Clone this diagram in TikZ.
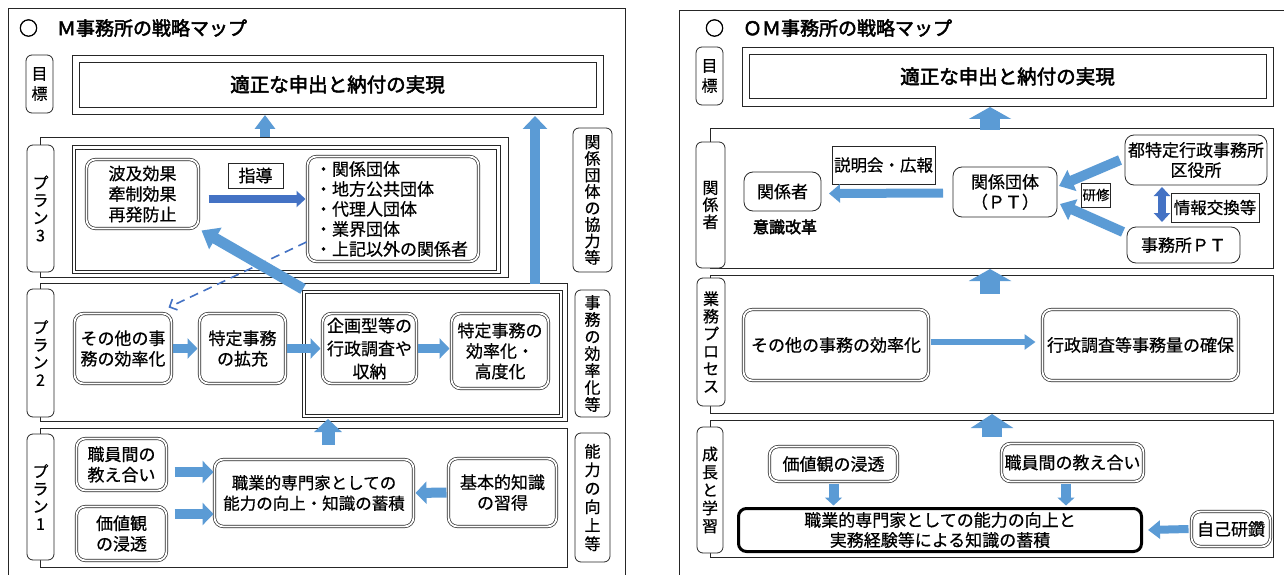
\documentclass[tikz,border=0pt]{standalone}
\usepackage{fontspec}
\setmainfont{Noto Sans CJK JP}[FakeBold=0.6,BoldFont={Noto Sans CJK JP},BoldFeatures={FakeBold=2.5}]
\usetikzlibrary{arrows.meta}
\definecolor{ab}{HTML}{5B9BD5}
\definecolor{db}{HTML}{4472C4}
\definecolor{ln}{HTML}{262626}
\begin{document}
\begin{tikzpicture}[x=1pt,y=-1pt,
  every node/.style={inner sep=0pt,outer sep=0pt},
  frm/.style={draw=ln,line width=0.8pt},
  lab/.style={draw=ln,fill=white,rounded corners=6pt,line width=0.8pt,align=center},
  goalbox/.style={draw=ln,line width=0.9pt,minimum width=531pt,minimum height=59pt,font=\fontsize{19.5}{22}\selectfont\bfseries},
  inbox/.style={draw=ln,line width=0.9pt},
  dbox/.style={draw=ln,double,double distance=1.8pt,line width=0.7pt,rounded corners=9pt,align=center,font=\fontsize{17}{20.5}\selectfont},
  sbox/.style={draw=ln,line width=0.8pt,rounded corners=9pt,align=center,font=\fontsize{17}{20.5}\selectfont},
  rbox/.style={draw=ln,line width=0.8pt,align=center,font=\fontsize{17}{20.5}\selectfont},
  arw/.style args={#1/#2/#3/#4}{draw=#1,line width=#2,-{Triangle[width=#3,length=#4]}},
  ttl/.style={anchor=west,font=\fontsize{19}{22}\selectfont\bfseries},
]
\useasboundingbox (0,0) rectangle (1284,575);
\fill[white] (0,0) rectangle (1284,575);

% ================= LEFT PANEL =================
\draw[frm] (8,575) -- (8,8) -- (625,8) -- (625,575);
\node[ttl] (titleL) at (19,28) {○　Ｍ事務所の戦略マップ};
\node[lab,minimum width=27pt,minimum height=58pt,font=\fontsize{16}{20}\selectfont] (gl) at (39.5,84) {目\\標};
\node[goalbox] (goalL) at (337.5,84.5) {適正な申出と納付の実現};
\draw[inbox] ([shift={(7pt,-7pt)}]goalL.north west) rectangle ([shift={(-7pt,7pt)}]goalL.south east);

% plan 3
\draw[frm] (40,137) rectangle (508,277);
\node[lab,minimum width=27pt,minimum height=127pt,font=\fontsize{16}{17.5}\selectfont] (p3l) at (40.5,208.5) {プ\\ラ\\ン\\3};
\node[inbox,minimum width=428pt,minimum height=128pt] (p3box) at (286,209.75) {};
\draw[inbox] ([shift={(3.5pt,-3.5pt)}]p3box.north west) rectangle ([shift={(-3.5pt,3.5pt)}]p3box.south east);
\node[dbox,minimum width=112pt,minimum height=69pt] (hakyu) at (142.5,194) {波及効果\\牽制効果\\再発防止};
\node[rbox,minimum width=55pt,minimum height=25pt] (shido) at (255.5,175.5) {指導};
\node[dbox,minimum width=171pt,minimum height=105pt,text width=156pt,align=left,font=\fontsize{17}{20}\selectfont] (list) at (393,209) {・関係団体\\・地方公共団体\\・代理人団体\\・業界団体\\・上記以外の関係者};
\node[lab,minimum width=39pt,minimum height=144pt,font=\fontsize{16}{16.5}\selectfont] (s1) at (592.5,200) {関\\係\\団\\体\\の\\協\\力\\等};

% plan 2
\draw[frm] (40,283) rectangle (567,421);
\node[lab,minimum width=27pt,minimum height=128pt,font=\fontsize{16}{17.5}\selectfont] (p2l) at (40.5,353) {プ\\ラ\\ン\\2};
\node[inbox,minimum width=260pt,minimum height=127pt] (p2box) at (432,353.5) {};
\draw[inbox] ([shift={(3pt,-3pt)}]p2box.north west) rectangle ([shift={(-3pt,3pt)}]p2box.south east);
\node[dbox,minimum width=97pt,minimum height=70pt] (oth) at (123,348.5) {その他の事\\務の効率化};
\node[dbox,minimum width=86pt,minimum height=70pt] (tok) at (242.5,348.5) {特定事務\\の拡充};
\node[dbox,minimum width=94pt,minimum height=70pt,font=\fontsize{17}{23}\selectfont] (kik) at (369.5,348.5) {企画型等の\\行政調査や\\収納};
\node[dbox,minimum width=97pt,minimum height=75pt] (koh) at (500,351) {特定事務の\\効率化・\\高度化};
\node[lab,minimum width=35pt,minimum height=127pt,font=\fontsize{16}{17}\selectfont] (s2) at (592.5,353.5) {事\\務\\の\\効\\率\\化\\等};

% plan 1
\draw[frm] (40,428) rectangle (567,567);
\node[lab,minimum width=27pt,minimum height=126pt,font=\fontsize{16}{17.5}\selectfont] (p1l) at (40.5,497) {プ\\ラ\\ン\\1};
\node[dbox,minimum width=90pt,minimum height=52pt] (osh) at (121.5,464.5) {職員間の\\教え合い};
\node[dbox,minimum width=90pt,minimum height=54pt] (kac) at (121.5,533.5) {価値観\\の浸透};
\node[dbox,minimum width=199pt,minimum height=67pt,font=\fontsize{16.5}{20.5}\selectfont] (sen) at (314,493) {職業的専門家としての\\能力の向上・知識の蓄積};
\node[dbox,minimum width=108pt,minimum height=68pt] (kih) at (502.5,492.5) {基本的知識\\の習得};
\node[lab,minimum width=35pt,minimum height=129pt,font=\fontsize{16}{18.5}\selectfont] (s3) at (592.5,497.5) {能\\力\\の\\向\\上\\等};

% left arrows
\coordinate (uL1) at (265,137); \coordinate (uL1t) at (265,115);
\draw[arw={ab/10pt/20pt/14pt}] (uL1) -- (uL1t);
\coordinate (vR) at (535,284); \coordinate (vRt) at (535,116);
\draw[arw={ab/10pt/24pt/13pt}] (vR) -- (vRt);
\draw[arw={db/8pt/16pt/9pt}] ([xshift=10pt,yshift=-5pt]hakyu.east) -- ([xshift=-2pt,yshift=10pt]list.west);
\draw[db,line width=1.6pt,dash pattern=on 9pt off 6pt,-{Straight Barb[length=6pt,width=12pt]}] ([xshift=-1pt,yshift=-33pt]list.west) -- ([xshift=-3pt,yshift=6pt]oth.north east);
\draw[arw={ab/11pt/24pt/16pt}] ([xshift=1pt,yshift=1pt]p2box.north west) -- ([xshift=3pt,yshift=-2pt]hakyu.south east);
\draw[arw={ab/9pt/20pt/10pt}] ([xshift=1pt]oth.east) -- ([xshift=-2pt]tok.west);
\draw[arw={ab/9pt/20pt/10pt}] ([xshift=1pt]tok.east) -- ([xshift=-2pt]kik.west);
\draw[arw={ab/9pt/20pt/10pt}] ([xshift=1pt]kik.east) -- ([xshift=-2pt]kik.east -| koh.west);
\draw[arw={ab/10pt/22pt/11pt}] ([xshift=8pt,yshift=-7.5pt]osh.east) -- ([xshift=-1pt,yshift=21pt]sen.west);
\draw[arw={ab/10pt/22pt/11pt}] ([xshift=8pt,yshift=19.5pt]kac.east) -- ([xshift=-1pt,yshift=-21pt]sen.west);
\draw[arw={ab/10pt/22pt/11pt}] ([xshift=-2pt]kih.west) -- ([xshift=2pt]sen.east);
\coordinate (uP1) at (328,445); \coordinate (uP1t) at (328,419);
\draw[arw={ab/13pt/27pt/13pt}] (uP1) -- (uP1t);

% ================= RIGHT PANEL =================
\draw[frm] (679,575) -- (679,10) -- (1284,10);
\node[ttl] (titleR) at (705,28) {○　ＯＭ事務所の戦略マップ};
\node[lab,minimum width=27pt,minimum height=58pt,font=\fontsize{16}{20}\selectfont] (gr) at (709.5,76) {目\\標};
\node[goalbox] (goalR) at (1007.5,76.5) {適正な申出と納付の実現};
\draw[inbox] ([shift={(7pt,-7.5pt)}]goalR.north west) rectangle ([shift={(-7pt,7.5pt)}]goalR.south east);

% stakeholders
\draw[frm] (710,128) rectangle (1273,268);
\node[lab,minimum width=29pt,minimum height=126pt,font=\fontsize{16}{17}\selectfont] (r1l) at (710.5,205) {関\\係\\者};
\node[sbox,minimum width=77pt,minimum height=39pt] (kan) at (782.5,191.5) {関係者};
\node[font=\fontsize{16}{18}\selectfont\bfseries] (ishiki) at (785,227) {意識改革};
\node[rbox,minimum width=103pt,minimum height=38pt,font=\fontsize{16.5}{20}\selectfont] (setsu) at (883.5,165) {説明会・広報};
\node[sbox,minimum width=104pt,minimum height=50pt,font=\fontsize{17}{20}\selectfont] (kdan) at (1005,192) {関係団体\\（ＰＴ）};
\node[sbox,minimum width=142pt,minimum height=50pt,font=\fontsize{17}{20}\selectfont] (toku) at (1196,160) {都特定行政事務所\\区役所};
\node[sbox,minimum width=113pt,minimum height=36pt] (jpt) at (1183.5,245) {事務所ＰＴ};
\node[rbox,minimum width=29pt,minimum height=24pt,font=\fontsize{13.5}{15}\selectfont] (kenshu) at (1096,195) {研修};
\node[rbox,minimum width=88pt,minimum height=29pt,font=\fontsize{16.5}{18}\selectfont] (joho) at (1215,207.5) {情報交換等};

\draw[arw={ab/9pt/18pt/11pt}] ([xshift=-10pt,yshift=-1pt]kdan.west) -- ([xshift=8pt,yshift=-2pt]kan.east);
\draw[arw={ab/10pt/22pt/14pt}] ([xshift=-5pt]toku.west) -- ([xshift=2pt,yshift=6pt]kdan.east);
\draw[arw={ab/10pt/22pt/14pt}] ([xshift=-4pt,yshift=13pt]jpt.west) -- ([xshift=3pt,yshift=-12pt]kdan.east);
\draw[draw=db,line width=8pt,{Triangle[width=16pt,length=9pt]}-{Triangle[width=16pt,length=9pt]}] ([xshift=-34pt,yshift=-2pt]toku.south) -- ([xshift=-21.5pt,yshift=5pt]jpt.north);
\coordinate (uR1) at (990,130); \coordinate (uR1t) at (990,107);
\draw[arw={ab/20pt/42pt/12pt}] (uR1) -- (uR1t);

% business process
\draw[frm] (710,275) rectangle (1273,413);
\node[lab,minimum width=28pt,minimum height=128pt,font=\fontsize{16}{17.5}\selectfont] (r2l) at (711,342) {業\\務\\プ\\ロ\\セ\\ス};
\node[dbox,minimum width=185pt,minimum height=71pt] (oth2) at (836,345) {その他の事務の効率化};
\node[dbox,minimum width=196pt,minimum height=71pt] (gyo) at (1140.5,345) {行政調査等事務量の確保};
\draw[arw={ab/6pt/15pt/11pt}] ([xshift=2pt,yshift=3pt]oth2.east) -- ([xshift=-7pt,yshift=3pt]gyo.west);
\coordinate (uR2) at (990,294); \coordinate (uR2t) at (990,269);
\draw[arw={ab/20pt/42pt/12pt}] (uR2) -- (uR2t);

% growth & learning
\draw[frm] (710,420) rectangle (1273,557);
\node[lab,minimum width=26pt,minimum height=126pt,font=\fontsize{16}{18}\selectfont] (r3l) at (710,490) {成\\長\\と\\学\\習};
\node[dbox,minimum width=128pt,minimum height=35pt] (kac2) at (833.5,464) {価値観の浸透};
\node[dbox,minimum width=142pt,minimum height=38pt] (osh2) at (1072.5,462.5) {職員間の教え合い};
\node[draw=black,line width=3pt,rounded corners=8pt,minimum width=403pt,minimum height=43pt,align=center,font=\fontsize{17}{20}\selectfont] (big) at (940,530) {職業的専門家としての能力の向上と\\実務経験等による知識の蓄積};
\node[dbox,minimum width=79pt,minimum height=35pt] (jiko) at (1231,529) {自己研鑽};
\draw[arw={ab/10pt/17pt/8pt}] ([yshift=-2pt]kac2.south) -- ([xshift=-106.5pt,yshift=3pt]big.north);
\draw[arw={ab/10pt/17pt/8pt}] ([xshift=-6.5pt,yshift=-2pt]osh2.south) -- ([xshift=126pt,yshift=3pt]big.north);
\draw[arw={ab/8pt/18pt/12pt}] ([xshift=-3pt]jiko.west) -- ([xshift=6.5pt]big.east);
\coordinate (uR3) at (992,437); \coordinate (uR3t) at (992,414);
\draw[arw={ab/20pt/42pt/14pt}] (uR3) -- (uR3t);
\end{tikzpicture}
\end{document}
